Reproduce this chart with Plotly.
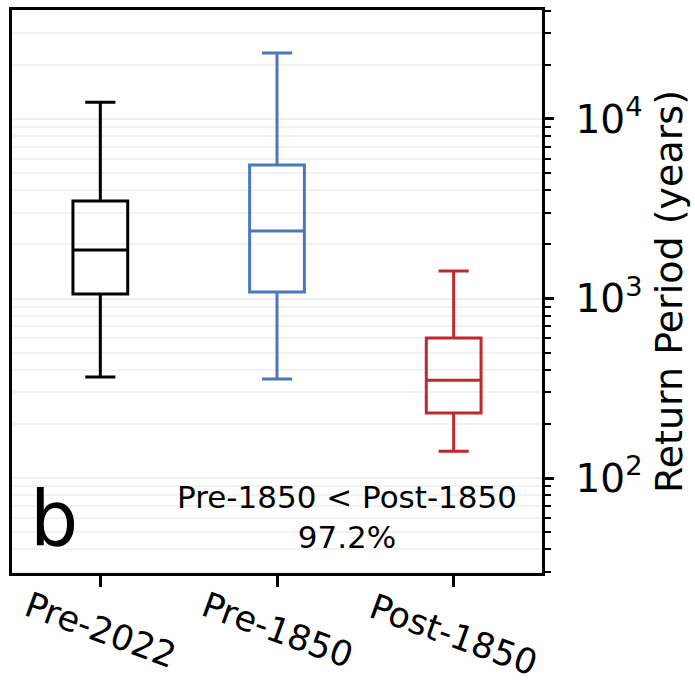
import plotly.graph_objects as go

categories = ["Pre-2022", "Pre-1850", "Post-1850"]
colors = ["#000000", "#4a78b8", "#c0282e"]
lower_whisker = [365, 356, 141]
q1 = [1059, 1086, 230]
median = [1862, 2377, 351]
q3 = [3490, 5545, 602]
upper_whisker = [12400, 23300, 1422]

major_vals = [100, 1000, 10000]
major_text = ["10<sup>2</sup>", "10<sup>3</sup>", "10<sup>4</sup>"]
minor_vals = [m * 10 ** e for e in (1, 2, 3, 4) for m in range(2, 10)]

fig = go.Figure()
for i, c in enumerate(categories):
    fig.add_trace(go.Box(
        x=[c], q1=[q1[i]], median=[median[i]], q3=[q3[i]],
        lowerfence=[lower_whisker[i]], upperfence=[upper_whisker[i]],
        line=dict(color=colors[i], width=3), fillcolor="rgba(0,0,0,0)",
        width=0.31, whiskerwidth=0.55, boxpoints=False, showlegend=False,
        hoverinfo="skip"))

font = "DejaVu Sans"
fig.update_layout(
    width=695, height=684,
    margin=dict(l=12, r=153, t=10, b=111, autoexpand=False),
    paper_bgcolor="white", plot_bgcolor="white",
    font=dict(family=font, color="black"),
    xaxis=dict(
        type="category", range=[-0.5, 2.5],
        showline=True, linecolor="black", linewidth=2.5, mirror=True,
        ticks="outside", ticklen=11, tickwidth=2.5, tickcolor="black",
        showticklabels=False,
        showgrid=False, zeroline=False),
    yaxis=dict(
        type="log", range=[1.471, 4.607], side="right",
        showline=True, linecolor="black", linewidth=2.5, mirror=True,
        tickmode="array", tickvals=major_vals, ticktext=major_text,
        ticks="outside", ticklen=9, tickwidth=2.5, tickcolor="black",
        tickfont=dict(size=39, family=font), ticklabelstandoff=14,
        showgrid=True, gridcolor="#efefef", gridwidth=1.5,
        minor=dict(tickmode="array", tickvals=minor_vals, ticks="outside",
                   ticklen=6, tickwidth=2, tickcolor="black",
                   showgrid=True, gridcolor="#f2f2f2", gridwidth=1.5),
        title=dict(text="Return Period (years)", font=dict(size=38, family=font), standoff=14),
        zeroline=False, automargin=False),
)

label_y = [630, 630, 635]
for i, c in enumerate(categories):
    fig.add_annotation(text=c, xref="x", yref="paper", x=c,
                       y=1 - (label_y[i] - 10) / 563, yanchor="middle", xanchor="center",
                       textangle=20, showarrow=False,
                       font=dict(size=35, family=font, color="black"))

fig.add_annotation(text="b", xref="paper", yref="paper", x=0.03, y=0.014,
                   xanchor="left", showarrow=False,
                   font=dict(size=76, family=font, color="black"))
fig.add_annotation(text="Pre-1850 < Post-1850<br>97.2%", xref="paper", yref="paper",
                   x=0.633, y=0.028, showarrow=False,
                   font=dict(size=31, family=font, color="black"))

fig.write_html("out.html")
